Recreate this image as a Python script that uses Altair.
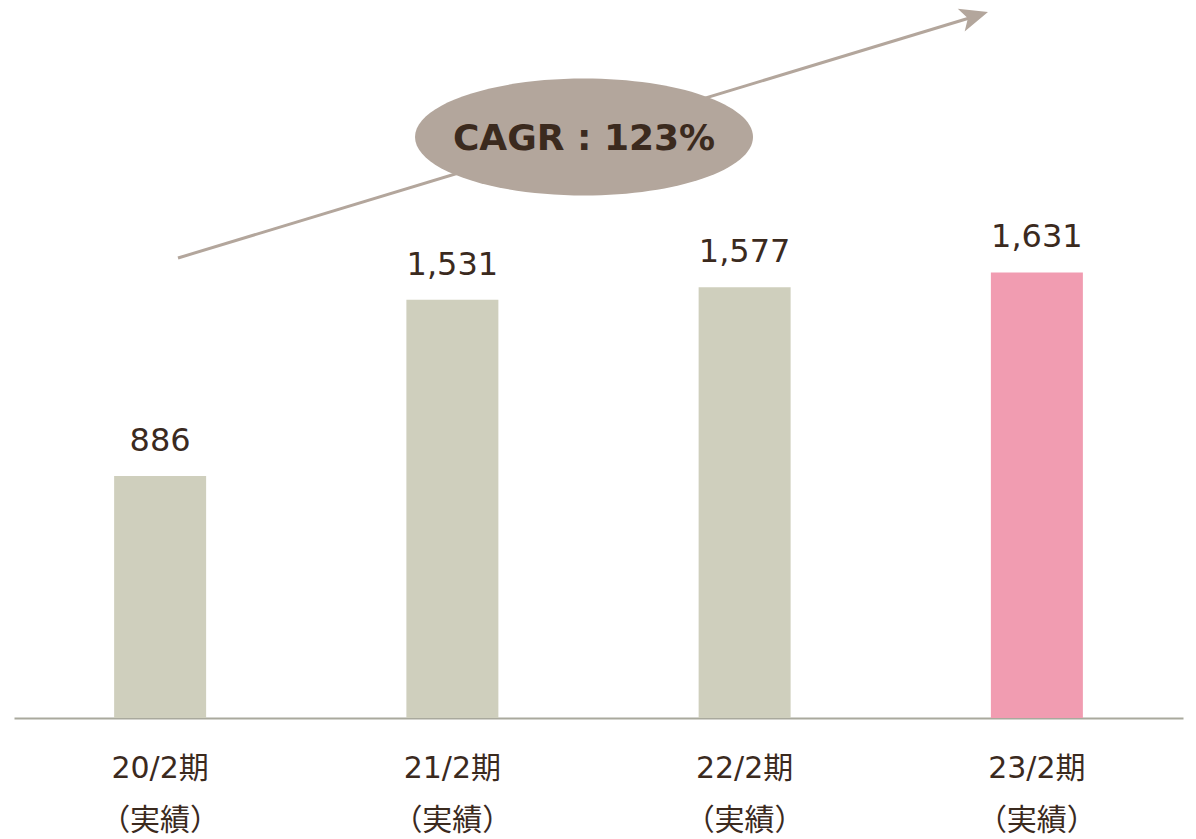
import altair as alt
import pandas as pd

# ---- data ----
periods = ["20/2期\n（実績）", "21/2期\n（実績）", "22/2期\n（実績）", "23/2期\n（実績）"]
values = [886, 1531, 1577, 1631]
highlight = [False, False, False, True]
cagr_text = "CAGR : 123%"

FONT = "DejaVu Sans, Noto Sans CJK JP"
TEXT_COLOR = "#3b2a1e"
BAR_GREY = "#cfcfbd"
BAR_PINK = "#f19cb1"
ANNOT = "#b3a69c"

df = pd.DataFrame({"period": periods, "value": values, "hl": highlight})
df["label"] = df["value"].map(lambda v: f"{v:,}")

one = pd.DataFrame({"k": [0]})

x_enc = alt.X(
    "period:N",
    sort=periods,
    scale=alt.Scale(paddingInner=0, paddingOuter=0),
    axis=alt.Axis(
        title=None,
        labelExpr="split(datum.label, '\\n')",
        labelAngle=0,
        labelFont=FONT,
        labelFontSize=30,
        labelColor=TEXT_COLOR,
        labelLineHeight=52,
        labelPadding=35,
        labelBaseline="top",
        ticks=False,
        domainColor="#a9a99d",
        domainWidth=2,
        grid=False,
    ),
)
y_enc = alt.Y("value:Q", scale=alt.Scale(domain=[0, 2628]), axis=None)

bars = alt.Chart(df).mark_bar(size=92).encode(
    x=x_enc,
    y=y_enc,
    color=alt.Color(
        "hl:N",
        scale=alt.Scale(domain=[False, True], range=[BAR_GREY, BAR_PINK]),
        legend=None,
    ),
)

labels = alt.Chart(df).mark_text(
    font=FONT, fontSize=32, color=TEXT_COLOR, baseline="alphabetic", dy=-25
).encode(x=alt.X("period:N", sort=periods), y=y_enc, text="label:N")

# ---- annotation: arrow + ellipse (plot-area pixel positions) ----
line_x0, line_y0, line_x1, line_y1 = 164, 258, 962, 16
arrow_line = alt.Chart(one).mark_rule(color=ANNOT, strokeWidth=3).encode(
    x=alt.value(line_x0), y=alt.value(line_y0), x2=alt.value(line_x1), y2=alt.value(line_y1)
)
arrow_head = alt.Chart(one).mark_point(
    shape="M1,0 L-1,-0.85 L-0.5,0 L-1,0.85 Z",
    size=784, filled=True, opacity=1, color=ANNOT, angle=343.1, strokeWidth=0,
).encode(x=alt.value(960.6), y=alt.value(16.1))

ellipse_path = (
    "M-1,0 C-1,-0.191 -0.552,-0.346 0,-0.346 C0.552,-0.346 1,-0.191 1,0 "
    "C1,0.191 0.552,0.346 0,0.346 C-0.552,0.346 -1,0.191 -1,0 Z"
)
ellipse = alt.Chart(one).mark_point(
    shape=ellipse_path, size=338 * 338, filled=True, opacity=1, color=ANNOT, strokeWidth=0
).encode(x=alt.value(570), y=alt.value(137))

cagr = alt.Chart(one).mark_text(
    text=cagr_text, font=FONT, fontSize=36, fontWeight="bold", color=TEXT_COLOR,
    align="center", baseline="middle",
).encode(x=alt.value(570), y=alt.value(139))

chart = alt.layer(arrow_line, arrow_head, ellipse, cagr, bars, labels).properties(
    width=1169,
    height=718,
    padding={"left": 14, "top": 0, "right": 13, "bottom": 121},
    autosize="none",
).configure_view(strokeWidth=0)

chart.save("out.html", embed_options={"renderer": "svg", "actions": False})
